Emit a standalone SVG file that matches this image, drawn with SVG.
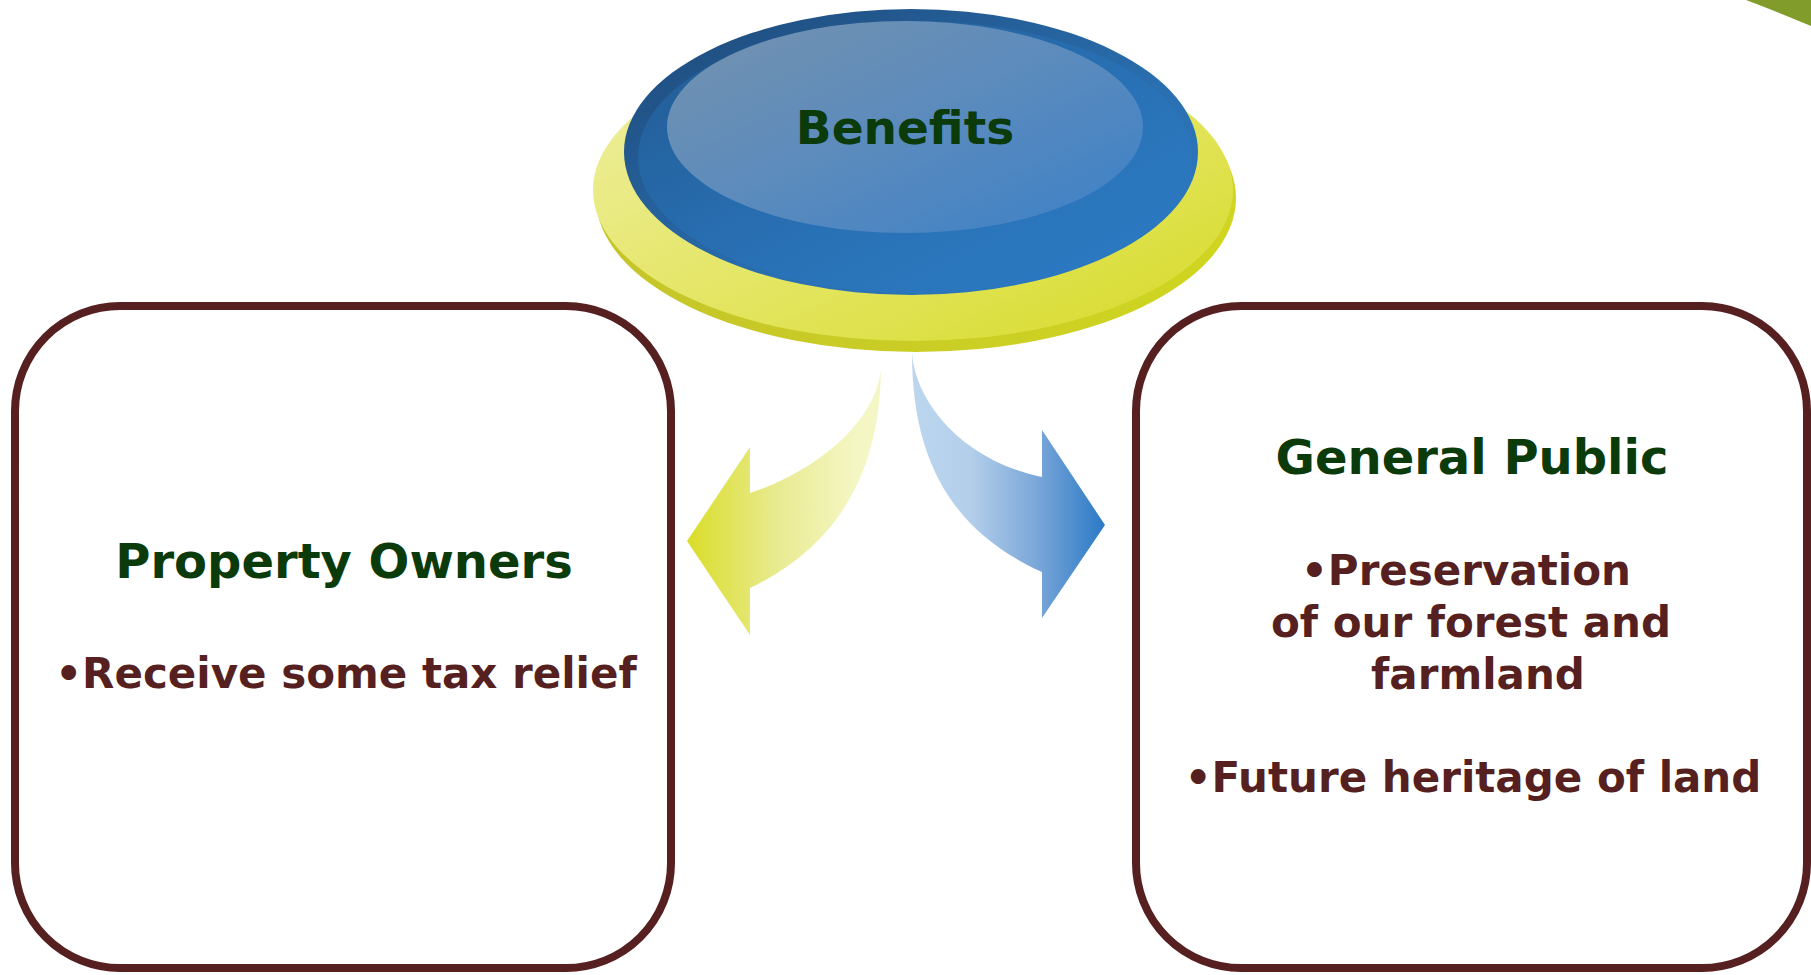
<svg xmlns="http://www.w3.org/2000/svg" width="1811" height="975" viewBox="0 0 1811 975">
<style>
.box{fill:#ffffff;stroke:#561f20;stroke-width:8}
.title{font-family:"DejaVu Sans",Verdana,sans-serif;font-weight:bold;fill:#0b3a0b;text-anchor:middle}
.body{font-family:"DejaVu Sans",Verdana,sans-serif;font-weight:bold;fill:#561f20;text-anchor:middle;font-size:42px}
</style>
<defs>
<linearGradient id="yel" x1="0" y1="0" x2="1" y2="1">
<stop offset="0" stop-color="#f0f0a8"/><stop offset="0.6" stop-color="#e2e45a"/><stop offset="1" stop-color="#d6da26"/>
</linearGradient>
<linearGradient id="yelRim" x1="0" y1="0" x2="1" y2="0">
<stop offset="0" stop-color="#c5c52a"/><stop offset="1" stop-color="#d0d520"/>
</linearGradient>
<linearGradient id="blueOuter" x1="0" y1="0" x2="1" y2="1">
<stop offset="0" stop-color="#1d4877"/><stop offset="0.6" stop-color="#2a6fb0"/><stop offset="1" stop-color="#2c7cc6"/>
</linearGradient>
<linearGradient id="blueBody" x1="0" y1="0" x2="1" y2="1">
<stop offset="0" stop-color="#215a92"/><stop offset="0.55" stop-color="#2971b5"/><stop offset="1" stop-color="#2c7cc6"/>
</linearGradient>
<linearGradient id="blueHi" x1="0" y1="0" x2="1" y2="1">
<stop offset="0" stop-color="#7592ae"/><stop offset="0.5" stop-color="#5b8bbd"/><stop offset="1" stop-color="#3b80c8"/>
</linearGradient>
<linearGradient id="arrL" gradientUnits="userSpaceOnUse" x1="687" y1="0" x2="881" y2="0">
<stop offset="0" stop-color="#dadd28"/><stop offset="0.45" stop-color="#e8ea8e"/><stop offset="0.85" stop-color="#f4f6c2"/><stop offset="1" stop-color="#f4f6c6"/>
</linearGradient>
<linearGradient id="arrR" gradientUnits="userSpaceOnUse" x1="912" y1="0" x2="1105" y2="0">
<stop offset="0" stop-color="#bcd6ee"/><stop offset="0.3" stop-color="#b4cfeb"/><stop offset="0.65" stop-color="#7aa6d8"/><stop offset="1" stop-color="#2a7ac6"/>
</linearGradient>
</defs>

<path d="M1746,0 L1811,0 L1811,26 Q1778,12 1746,0 Z" fill="#819c2b"/>

<g id="node-benefits">
<ellipse cx="916" cy="198" rx="320" ry="154" fill="url(#yelRim)"/>
<ellipse cx="913" cy="190" rx="320" ry="151" fill="url(#yel)"/>
<ellipse cx="911" cy="152" rx="287" ry="143" fill="url(#blueOuter)"/>
<ellipse cx="915" cy="157" rx="277" ry="136" fill="url(#blueBody)"/>
<ellipse cx="905" cy="127" rx="238" ry="106" fill="url(#blueHi)"/>
<text class="title" x="905" y="144" font-size="47">Benefits</text>
</g>

<g id="connectors">
<path d="M881,369 C876,420 820,470 750,493 L750,447 L687,541 L750,635 L750,588 C840,545 880,470 881,369 Z" fill="url(#arrL)"/>
<path d="M912,353 C915,400 960,460 1042,477 L1042,430 L1105,525 L1042,618 L1042,572 C960,535 912,470 912,353 Z" fill="url(#arrR)"/>
</g>

<g id="node-property-owners">
<rect class="box" x="15" y="306" width="656" height="662" rx="105" ry="105"/>
<text class="title" x="344" y="578" font-size="48">Property Owners</text>
<text class="body" x="346" y="688">•Receive some tax relief</text>
</g>

<g id="node-general-public">
<rect class="box" x="1136" y="306" width="671" height="662" rx="105" ry="105"/>
<text class="title" x="1472" y="474" font-size="48">General Public</text>
<text class="body" x="1466" y="585">•Preservation</text>
<text class="body" x="1471" y="637">of our forest and</text>
<text class="body" x="1478" y="689">farmland</text>
<text class="body" x="1473" y="792">•Future heritage of land</text>
</g>
</svg>
